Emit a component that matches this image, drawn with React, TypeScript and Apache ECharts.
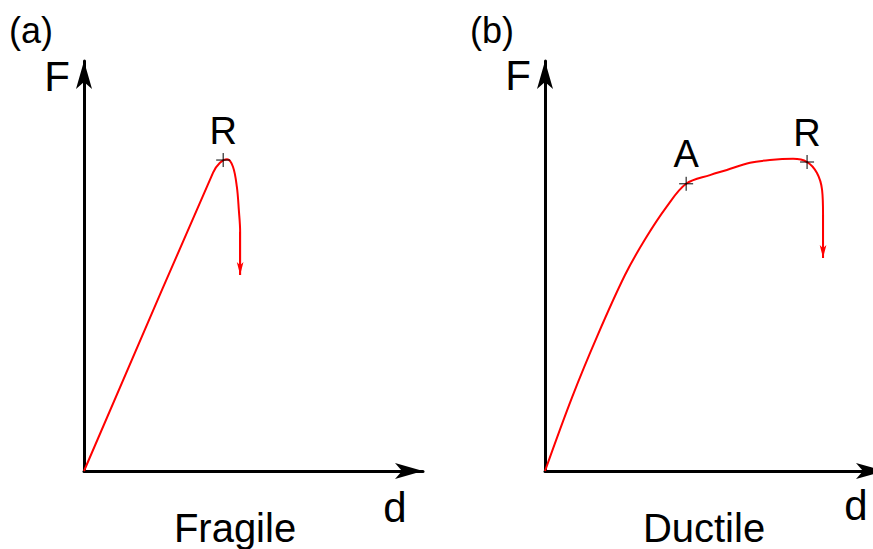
import React, { useEffect, useRef } from "react";
import * as echarts from "echarts";

const FONT = "'Liberation Sans', Arial, Helvetica, sans-serif";

// Axis ranges (arbitrary units) for both panels
const AXIS_MAX_D = 104;
const AXIS_MAX_F = 103.5;

// Panel (a) — fragile material: displacement d vs force F
const fragileD = [0, 39.6, 41.7, 43.9, 45.7, 46.9, 47.5, 47.9, 47.9];
const fragileF = [0, 75.3, 77.8, 78.7, 76.8, 71.7, 65.9, 60.4, 49.5];
const fragileMarks = [{ name: "R", d: 42.7, f: 78.5 }];

// Panel (b) — ductile material
const ductileD = [0, 8.3, 16.0, 24.5, 30.7, 37.4, 43.3, 50.6, 55.8, 62.9, 69.0, 76.1, 80.4, 83.4, 85.0, 85.3, 85.3];
const ductileF = [0, 18.6, 34.0, 49.4, 58.5, 66.8, 72.5, 74.7, 76.0, 77.8, 78.5, 78.8, 78.0, 75.3, 71.0, 64.6, 53.8];
const ductileMarks = [
  { name: "A", d: 43.3, f: 72.5 },
  { name: "R", d: 80.4, f: 78.0 },
];

const panelTitles = ["(a)", "(b)"];
const panelNames = ["Fragile", "Ductile"];
const axisNameF = "F";
const axisNameD = "d";

function makeAxis(gridIndex: number, max: number) {
  return {
    gridIndex,
    type: "value" as const,
    min: 0,
    max,
    axisLine: {
      show: true,
      onZero: false,
      symbol: ["none", "arrow"],
      symbolSize: [12, 28],
      lineStyle: { color: "#000", width: 3 },
    },
    axisTick: { show: false },
    axisLabel: { show: false },
    splitLine: { show: false },
  };
}

function curveSeries(idx: number, ds: number[], fs: number[]) {
  const n = ds.length;
  return {
    type: "line" as const,
    xAxisIndex: idx,
    yAxisIndex: idx,
    data: ds.map((d, i) => [d, fs[i]]),
    smooth: 0.35,
    symbol: "none",
    silent: true,
    clip: false,
    lineStyle: { color: "#ff0000", width: 2 },
    markLine: {
      silent: true,
      symbol: ["none", "arrow"],
      symbolSize: [5, 13],
      label: { show: false },
      lineStyle: { color: "#ff0000", width: 2, type: "solid" },
      data: [[{ coord: [ds[n - 2], fs[n - 2]] }, { coord: [ds[n - 1], fs[n - 1]] }]],
    },
  };
}

function markSeries(idx: number, marks: { name: string; d: number; f: number }[]) {
  return {
    type: "scatter" as const,
    xAxisIndex: idx,
    yAxisIndex: idx,
    silent: true,
    z: 5,
    data: marks.map((m) => ({ name: m.name, value: [m.d, m.f] })),
    symbol: "path://M0,7L14,7M7,0L7,14",
    symbolSize: 14,
    itemStyle: { color: "none", borderColor: "#000", borderWidth: 1, opacity: 1 },
    label: {
      show: true,
      position: "top",
      distance: 1,
      formatter: "{b}",
      fontSize: 38,
      fontFamily: FONT,
      color: "#000",
      opacity: 1,
    },
  };
}

function txt(text: string, x: number, y: number, size: number, align = "center") {
  return {
    type: "text",
    x,
    y,
    silent: true,
    style: {
      text,
      fill: "#000",
      fontSize: size,
      fontFamily: FONT,
      textAlign: align,
      textVerticalAlign: "middle",
      align,
      verticalAlign: "middle",
    },
  };
}

export default function App() {
  const ref = useRef<HTMLDivElement>(null);
  useEffect(() => {
    if (!ref.current) return;
    const chart = echarts.init(ref.current, undefined, { renderer: "svg" });
    chart.setOption({
      animation: false,
      backgroundColor: "#fff",
      grid: [
        { left: 84, top: 61, width: 339, height: 410, outerBoundsMode: "none", containLabel: false },
        { left: 545, top: 61, width: 339, height: 410, outerBoundsMode: "none", containLabel: false },
      ],
      xAxis: [makeAxis(0, AXIS_MAX_D), makeAxis(1, AXIS_MAX_D)],
      yAxis: [makeAxis(0, AXIS_MAX_F), makeAxis(1, AXIS_MAX_F)],
      series: [
        curveSeries(0, fragileD, fragileF),
        markSeries(0, fragileMarks),
        curveSeries(1, ductileD, ductileF),
        markSeries(1, ductileMarks),
      ],
      graphic: [
        txt(panelTitles[0], 9, 30, 36, "left"),
        txt(panelTitles[1], 470, 30, 36, "left"),
        txt(axisNameF, 57, 76, 42),
        txt(axisNameF, 518, 75, 42),
        txt(axisNameD, 395, 507, 42),
        txt(axisNameD, 856, 505, 42),
        txt(panelNames[0], 235, 528, 40),
        txt(panelNames[1], 704, 528, 40),
      ],
    });
    return () => chart.dispose();
  }, []);
  return (
    <div
      ref={ref}
      style={{ position: "fixed", left: 0, top: 0, width: 873, height: 549, background: "#fff" }}
    />
  );
}
